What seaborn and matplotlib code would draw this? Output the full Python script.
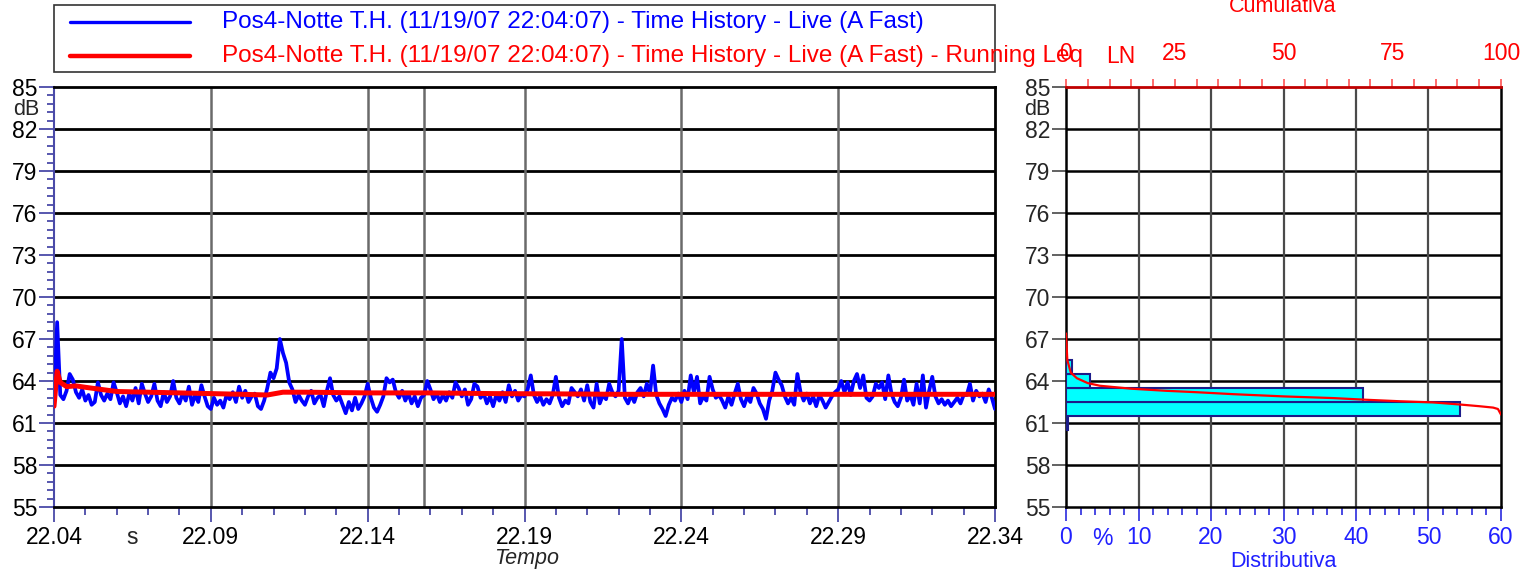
import numpy as np
import pandas as pd
import seaborn as sns
import matplotlib.pyplot as plt
from matplotlib.lines import Line2D
from matplotlib.patches import Rectangle
from matplotlib.ticker import FixedLocator

# ---- data ----
# A-fast level, one reading every 0.1 min from 22:04:07 (dB)
level_db = [
    62.2, 68.2, 63.0, 62.7, 63.3, 64.5, 64.1, 63.2, 62.8, 63.4,
    62.6, 63.0, 62.3, 62.5, 63.9, 63.0, 62.6, 63.1, 62.7, 63.9,
    63.2, 62.4, 62.9, 62.2, 63.1, 62.6, 63.5, 62.4, 63.8, 63.1,
    62.5, 62.9, 63.8, 62.6, 62.2, 63.2, 62.5, 62.9, 64.0, 62.8,
    62.4, 63.1, 62.6, 63.6, 62.3, 63.0, 62.5, 63.7, 62.9, 62.2,
    62.0, 62.8, 62.3, 62.6, 62.1, 63.0, 62.7, 63.2, 62.5, 63.6,
    62.8, 63.3, 62.5, 62.9, 63.1, 62.2, 62.0, 62.6, 63.5, 64.6,
    64.2, 64.9, 67.0, 66.0, 65.3, 63.9, 63.4, 62.5, 63.0, 62.6,
    62.3, 62.9, 63.3, 62.4, 62.8, 63.0, 62.2, 63.3, 64.2, 63.0,
    62.6, 62.9, 62.3, 61.7, 62.5, 61.9, 62.8, 62.0, 62.4, 62.9,
    63.8, 62.8, 62.1, 61.8, 62.3, 62.9, 64.2, 63.9, 64.1, 63.2,
    62.8, 63.3, 62.6, 63.1, 62.4, 62.9, 62.2, 62.8, 63.0, 64.0,
    63.4, 62.7, 63.1, 62.5, 63.0, 62.6, 63.2, 62.8, 63.9, 63.5,
    62.9, 63.4, 62.3, 62.7, 63.8, 63.6, 62.8, 63.1, 62.4, 62.9,
    62.2, 63.0, 62.6, 63.2, 62.5, 63.7, 62.9, 63.3, 62.6, 63.0,
    62.9, 63.4, 64.4, 63.0, 62.5, 62.9, 62.3, 62.7, 62.4, 63.0,
    64.3, 62.8, 62.2, 62.6, 62.4, 63.5, 63.2, 62.9, 63.4, 62.6,
    63.7, 62.5, 62.1, 63.8, 62.4, 63.0, 62.7, 63.8, 63.2, 62.9,
    63.3, 67.0, 62.8, 62.4, 63.0, 62.5, 63.2, 63.5, 62.9, 63.8,
    63.1, 65.1, 63.0, 62.4, 62.0, 61.5, 62.3, 62.8, 62.6, 63.1,
    62.5, 63.3, 62.7, 64.4, 63.2, 64.3, 62.4, 62.9, 62.6, 64.3,
    63.4, 62.8, 63.0, 62.6, 62.1, 62.9, 62.3, 63.1, 63.8, 62.7,
    62.2, 62.9, 62.5, 63.5, 63.1, 62.4, 62.0, 61.3, 62.6, 63.3,
    64.6, 64.1, 63.7, 62.9, 62.4, 62.8, 62.3, 64.5, 63.2, 62.6,
    63.1, 62.4, 62.9, 62.2, 63.0, 62.6, 62.1, 62.5, 62.9, 63.2,
    63.4, 64.0, 63.2, 63.9, 63.0, 64.0, 64.5, 63.5, 64.4, 62.8,
    62.6, 62.9, 63.8, 63.5, 63.9, 62.7, 64.4, 63.1, 62.5, 62.2,
    62.8, 64.1, 62.6, 63.0, 62.3, 63.8, 62.4, 64.4, 62.1, 63.3,
    64.3, 62.9, 62.4, 62.7, 62.3, 62.6, 62.2, 62.5, 62.8, 62.4,
    63.0, 63.0, 63.8, 62.6, 63.3, 62.9, 63.1, 62.5, 63.4, 62.8,
    62.0,
]
time_min = np.arange(len(level_db)) * 0.1

# running Leq
leq_min = [0, 0.1, 0.2, 0.4, 0.7, 1.0, 1.5, 2.0, 3.0, 4.0, 5.0, 6.0, 6.8,
           7.3, 8.0, 10, 12, 14, 16, 18, 20, 22, 24, 26, 28, 30]
leq_db = [62.2, 64.7, 63.9, 63.6, 63.65, 63.55, 63.4, 63.25, 63.2, 63.15, 63.1,
          63.05, 63.0, 63.2, 63.2, 63.15, 63.15, 63.1, 63.08, 63.05, 63.05,
          63.05, 63.05, 63.05, 63.05, 63.05]

# level distribution (1 dB classes) and cumulative LN curve
class_db = [61, 62, 63, 64, 65]
class_edges = [60.5, 61.5, 62.5, 63.5, 64.5, 65.5]
class_pct = [0.3, 54.4, 40.9, 3.3, 0.8]

ln_pct = [0, 0.3, 1.1, 2.5, 5, 7.8, 15, 23, 30, 38.4, 50, 61.4, 69, 77,
          84.4, 90.6, 95, 98.2, 99.3, 100]
ln_db = [67.4, 65.5, 64.6, 64.2, 63.85, 63.66, 63.45, 63.3, 63.2, 63.06, 62.9,
         62.78, 62.66, 62.55, 62.47, 62.32, 62.2, 62.1, 62.0, 61.6]

time_ticks = [0, 5, 10, 15, 20, 25, 30]
time_labels = ["22.04", "22.09", "22.14", "22.19", "22.24", "22.29", "22.34"]
db_ticks = [55, 58, 61, 64, 67, 70, 73, 76, 79, 82, 85]
extra_vgrid = [5, 10, 11.8, 15, 20, 25]
dist_ticks = [0, 10, 20, 30, 40, 50, 60]
cum_ticks = [0, 25, 50, 75, 100]

legend_labels = [
    "Pos4-Notte T.H. (11/19/07 22:04:07) - Time History - Live (A Fast)",
    "Pos4-Notte T.H. (11/19/07 22:04:07) - Time History - Live (A Fast) - Running Leq",
]

# ---- figure ----
sns.set_style("ticks")
plt.rcParams["font.family"] = ["Liberation Sans", "DejaVu Sans"]

W, H = 1537, 571
fig = plt.figure(figsize=(W / 100, H / 100), dpi=100)


def box(x0, x1, y0, y1):
    return [x0 / W, 1 - y1 / H, (x1 - x0) / W, (y1 - y0) / H]


BLUE = "#0000ff"
RED = "#ff0000"
TICKBLUE = "#4a4aa8"
FS = 16.5

ax = fig.add_axes(box(54, 995, 87, 507))
ax2 = fig.add_axes(box(1066, 1501, 87, 507))

# time history panel
th = pd.DataFrame({"t": time_min, "L": level_db})
sns.lineplot(data=th, x="t", y="L", ax=ax, color=BLUE, linewidth=2.7,
             estimator=None, zorder=3)
sns.lineplot(x=leq_min, y=leq_db, ax=ax, color=RED, linewidth=3.6,
             estimator=None, zorder=4)

ax.set_xlim(0, 30)
ax.set_ylim(55, 85)
ax.set_xlabel("")
ax.set_ylabel("")
for y in db_ticks[1:-1]:
    ax.axhline(y, color="black", lw=2, zorder=1)
for x in extra_vgrid:
    ax.axvline(x, color="#6a6a6a", lw=1.8, zorder=1)

ax.set_xticks(time_ticks)
ax.set_xticklabels(time_labels)
ax.xaxis.set_minor_locator(FixedLocator(np.arange(0, 30.01, 1)))
ax.set_yticks(db_ticks)
ax.yaxis.set_minor_locator(FixedLocator(np.arange(55, 85.01, 0.6)))
ax.tick_params(axis="both", which="both", color=TICKBLUE, width=1.3,
               labelsize=FS, labelcolor="black")
ax.tick_params(axis="y", which="major", length=11, pad=1)
ax.tick_params(axis="y", which="minor", length=5)
ax.tick_params(axis="x", which="major", length=11, pad=3)
ax.tick_params(axis="x", which="minor", length=6)
for side in ["top", "right", "bottom"]:
    ax.spines[side].set_color("black")
    ax.spines[side].set_linewidth(2)
ax.spines["left"].set_color(TICKBLUE)
ax.spines["left"].set_linewidth(1.5)

# distribution panel
sns.histplot(y=class_db, weights=class_pct, bins=class_edges, ax=ax2,
             color="#00ffff", edgecolor="#1c1c8a", linewidth=1.5, alpha=1,
             zorder=3)
ax2.set_xlim(0, 60)
ax2.set_ylim(55, 85)
ax2.set_xlabel("")
ax2.set_ylabel("")
for y in db_ticks[1:-1]:
    ax2.axhline(y, color="black", lw=1.8, zorder=1)
for x in dist_ticks[1:-1]:
    ax2.axvline(x, color="#4a4a4a", lw=1.6, zorder=1)
ax2.set_xticks(dist_ticks)
ax2.set_xticklabels([str(v) for v in dist_ticks])
ax2.xaxis.set_minor_locator(FixedLocator(np.arange(0, 60.01, 2)))
ax2.set_yticks(db_ticks)
ax2.tick_params(axis="y", which="major", length=10, width=1.3, color="#555555",
                labelsize=FS, pad=1)
ax2.tick_params(axis="x", which="both", color="#3a3ae0", width=1.3,
                labelsize=FS, labelcolor="#2020ff", pad=4)
ax2.tick_params(axis="x", which="major", length=10)
ax2.tick_params(axis="x", which="minor", length=6)
for side in ["left", "right", "bottom"]:
    ax2.spines[side].set_color("black")
    ax2.spines[side].set_linewidth(1.8)
ax2.spines["top"].set_visible(False)

ax3 = ax2.twiny()
sns.lineplot(x=ln_pct, y=ln_db, ax=ax3, color=RED, linewidth=1.6,
             estimator=None, sort=False, zorder=5)
ax3.set_xlim(0, 100)
ax3.set_ylim(55, 85)
ax3.set_xlabel("")
ax3.set_ylabel("")
ax3.set_xticks(cum_ticks)
ax3.set_xticklabels([str(v) for v in cum_ticks])
ax3.xaxis.set_minor_locator(FixedLocator(np.arange(0, 100.01, 5)))
ax3.tick_params(axis="x", which="both", color="#ff6060", width=1.3,
                labelsize=FS, labelcolor=RED, length=6, pad=10)
for side in ["left", "right", "bottom"]:
    ax3.spines[side].set_visible(False)
ax3.spines["top"].set_color("#c00000")
ax3.spines["top"].set_linewidth(2)

# unit labels placed on the axes' own tick rows
fig.text(39 / W, 1 - 110 / H, "dB", ha="right", va="center", fontsize=15.5)
fig.text(1050 / W, 1 - 110 / H, "dB", ha="right", va="center", fontsize=15.5)
ax.text(2.5, -0.045, "s", transform=ax.get_xaxis_transform(), ha="center",
        va="top", fontsize=FS)
ax2.text(5, -0.047, "%", transform=ax2.get_xaxis_transform(), ha="center",
         va="top", fontsize=FS, color="#2020ff")
ax3.text(12.5, 1.045, "LN", transform=ax3.get_xaxis_transform(), ha="center",
         va="bottom", fontsize=FS, color=RED)

fig.text(527 / W, 1 - 564 / H, "Tempo", ha="center", va="baseline",
         fontsize=15.5, style="italic")
fig.text(1283 / W, 1 - 567 / H, "Distributiva", ha="center", va="baseline",
         fontsize=15.5, color="#2020ff")
fig.text(1283 / W, 1 - 12 / H, "Cumulativa", ha="center", va="baseline",
         fontsize=15.5, color=RED)

# legend box, drawn by hand so the long label can spill over like the original
fig.add_artist(Rectangle((54 / W, 1 - 72 / H), (995 - 54) / W, 67 / H,
                         transform=fig.transFigure, fill=False,
                         ec="#333333", lw=1.2))
for yb, col, lab, lw in [(28, BLUE, legend_labels[0], 2.4),
                         (62, RED, legend_labels[1], 3.2)]:
    ym = yb - 6
    fig.add_artist(Line2D([70 / W, 190 / W], [1 - ym / H] * 2, color=col,
                          lw=lw, transform=fig.transFigure))
    fig.text(222 / W, 1 - yb / H, lab, ha="left", va="baseline",
             fontsize=17.5, color=col)

fig.savefig("out.png", dpi=100)
